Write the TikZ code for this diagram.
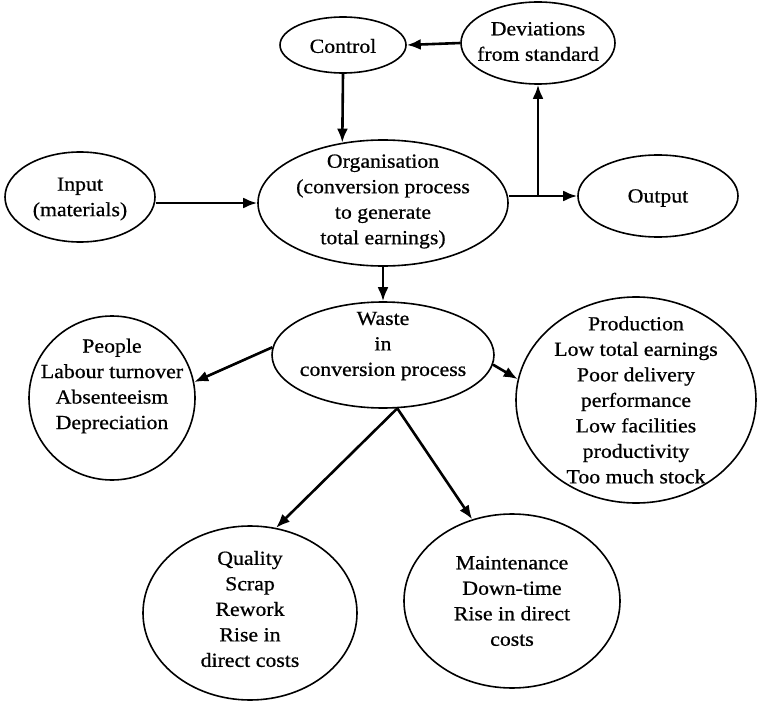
\documentclass[tikz,border=0pt]{standalone}
\usepackage{fontspec}
\setmainfont{Liberation Serif}[FakeStretch=1.09, FakeBold=0.7]
\usetikzlibrary{shapes.geometric,arrows.meta}

\tikzset{
  oval/.style={draw, ellipse, line width=1.6pt, inner sep=0pt},
  txt/.style={align=center, inner sep=0pt, font=\fontsize{20}{25.5}\selectfont},
  arr/.style={line width=2.6pt, -{Latex[length=14pt,width=11pt]}},
}

\begin{document}
\begin{tikzpicture}[x=1pt, y=-1pt]
  \useasboundingbox (0,0) rectangle (780,701);

  % outlines of the bubbles
  \node[oval, minimum width=126pt, minimum height=56pt] (ctrl) at (343,45) {};
  \node[oval, minimum width=154pt, minimum height=82pt] (dev) at (538,43) {};
  \node[oval, minimum width=150pt, minimum height=90pt] (inp) at (80,197) {};
  \node[oval, minimum width=250pt, minimum height=126pt] (org) at (383,203) {};
  \node[oval, minimum width=160pt, minimum height=82pt] (out) at (658,196) {};
  \node[oval, minimum width=222pt, minimum height=106pt] (waste) at (383,355) {};
  \node[oval, minimum width=166pt, minimum height=164pt] (people) at (112,398) {};
  \node[oval, minimum width=240pt, minimum height=206pt] (prod) at (636,400) {};
  \node[oval, minimum width=214pt, minimum height=174pt] (qual) at (250,613) {};
  \node[oval, minimum width=216pt, minimum height=174pt] (maint) at (512,601) {};

  % their texts
  \node[txt] (ctrl-t) at ([yshift=-1pt]ctrl.center) {Control};
  \node[txt] (dev-t) at ([yshift=1.5pt]dev.center) {Deviations\\from standard};
  \node[txt] (inp-t) at ([yshift=-2pt]inp.center) {Input\\(materials)};
  \node[txt] (org-t) at ([yshift=1.5pt]org.center)
    {Organisation\\(conversion process\\to generate\\total earnings)};
  \node[txt] (out-t) at ([yshift=-2pt]out.center) {Output};
  \node[txt] (waste-t) at ([yshift=9pt]waste.center) {Waste\\in\\conversion process};
  \node[txt] (people-t) at ([yshift=12pt]people.center)
    {People\\Labour turnover\\Absenteeism\\Depreciation};
  \node[txt] (prod-t) at (prod.center)
    {Production\\Low total earnings\\Poor delivery\\performance\\Low facilities\\productivity\\Too much stock};
  \node[txt] (qual-t) at ([yshift=4pt]qual.center)
    {Quality\\Scrap\\Rework\\Rise in\\direct costs};
  \node[txt] (maint-t) at (maint.center)
    {Maintenance\\Down-time\\Rise in direct\\costs};

  % control loop
  \draw[arr] (dev.west) -- (ctrl.east);
  \draw[arr] (ctrl.south) -- (org.124);
  \draw[arr] (inp.east |- org.west) -- (org.west);
  \draw[arr] (org.east |- out.west) -- (out.west);
  \coordinate (br) at (dev.south |- out.west);
  \draw[arr] (br) -- (dev.south);
  \draw[arr] (org.south) -- (waste.north);

  % consequences of waste
  \draw[arr] (waste.176) -- (people.11);
  \draw[arr] (waste.-5) -- (prod.170);
  \draw[arr] (waste.-75) -- (qual.73);
  \draw[arr] (waste.-75) -- (maint.116);
\end{tikzpicture}
\end{document}
